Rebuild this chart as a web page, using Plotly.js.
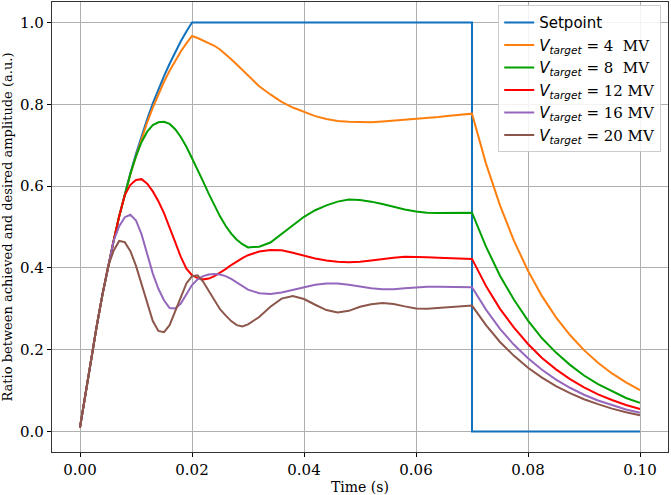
<!DOCTYPE html>
<html>
<head>
<meta charset="utf-8">
<script src="https://cdn.plot.ly/plotly-3.0.1.min.js"></script>
<style>
  html, body { margin: 0; padding: 0; background: #fff; }
  #plot { width: 671px; height: 495px; }
</style>
</head>
<body>
<div id="plot"></div>
<script>
// Time grid shared by the responses (s)
var time = [
  0, 0.001, 0.002, 0.003, 0.004, 0.005, 0.006, 0.007, 0.008, 0.009, 0.010,
  0.011, 0.012, 0.013, 0.014, 0.015, 0.016, 0.017, 0.018, 0.019, 0.020,
  0.021, 0.022, 0.023, 0.024, 0.025, 0.026, 0.027, 0.028, 0.029, 0.030,
  0.032, 0.034, 0.036, 0.038, 0.040, 0.042, 0.044, 0.046, 0.048, 0.050,
  0.052, 0.054, 0.056, 0.058, 0.060, 0.062, 0.064, 0.066, 0.068, 0.070,
  0.0725, 0.075, 0.0775, 0.080, 0.0825, 0.085, 0.0875, 0.090, 0.0925, 0.095, 0.0975, 0.100
];

// Setpoint
var setpointTime = [
  0, 0.001, 0.002, 0.003, 0.004, 0.005, 0.006, 0.007, 0.008, 0.009, 0.010,
  0.011, 0.012, 0.013, 0.014, 0.015, 0.016, 0.017, 0.018, 0.019, 0.020,
  0.070, 0.070, 0.100
];
var setpoint = [
  0.01, 0.095, 0.179, 0.259, 0.334, 0.403, 0.466, 0.526, 0.581, 0.632, 0.679,
  0.723, 0.764, 0.802, 0.837, 0.869, 0.899, 0.928, 0.954, 0.978, 1.0,
  1.0, 0.0, 0.0
];

// Achieved / desired amplitude for each target voltage
var v4 = [
  0.01, 0.095, 0.179, 0.259, 0.334, 0.403, 0.466, 0.526, 0.58,
  0.629, 0.673, 0.716, 0.756, 0.792, 0.825, 0.855, 0.882, 0.907, 0.929, 0.949, 0.967,
  0.962, 0.956, 0.95, 0.943, 0.934, 0.923, 0.91, 0.897, 0.884, 0.869,
  0.844, 0.824, 0.806, 0.792, 0.781, 0.771, 0.764, 0.759, 0.757, 0.756,
  0.756, 0.758, 0.76, 0.762, 0.765, 0.767, 0.769, 0.772, 0.774, 0.777,
  0.655, 0.553, 0.466, 0.393, 0.331, 0.279, 0.236, 0.199, 0.168, 0.142, 0.120, 0.101
];
var v8 = [
  0.01, 0.095, 0.179, 0.259, 0.334, 0.403, 0.466, 0.526,
  0.58, 0.63, 0.673, 0.708, 0.733, 0.749, 0.756, 0.757, 0.752, 0.739, 0.72, 0.696, 0.668,
  0.641, 0.611, 0.581, 0.552, 0.526, 0.503, 0.484, 0.469, 0.458, 0.45,
  0.452, 0.462, 0.483, 0.505, 0.525, 0.541, 0.553, 0.562, 0.567, 0.566,
  0.562, 0.556, 0.549, 0.543, 0.538, 0.535, 0.534, 0.534, 0.535, 0.535,
  0.452, 0.381, 0.322, 0.271, 0.228, 0.193, 0.163, 0.137, 0.116, 0.098, 0.082, 0.07
];
var v12 = [
  0.01, 0.095, 0.179, 0.259, 0.334, 0.403, 0.466, 0.526,
  0.578, 0.603, 0.615, 0.617, 0.606, 0.587, 0.563, 0.534, 0.50, 0.463, 0.427, 0.398, 0.382,
  0.375, 0.372, 0.374, 0.38, 0.388, 0.397, 0.407, 0.416, 0.424, 0.431,
  0.44, 0.444, 0.443, 0.437, 0.43, 0.423, 0.418, 0.415, 0.414, 0.415,
  0.418, 0.422, 0.425, 0.427, 0.427, 0.426, 0.425, 0.424, 0.423, 0.422,
  0.356, 0.300, 0.254, 0.214, 0.180, 0.152, 0.128, 0.108, 0.091, 0.077, 0.065, 0.055
];
var v16 = [
  0.01, 0.095, 0.179, 0.259, 0.334, 0.403, 0.466,
  0.502, 0.524, 0.53, 0.516, 0.482, 0.433, 0.386, 0.349, 0.321, 0.302, 0.301, 0.313, 0.335, 0.358,
  0.372, 0.38, 0.384, 0.385, 0.384, 0.38, 0.373, 0.364, 0.355, 0.347,
  0.338, 0.336, 0.34, 0.346, 0.353, 0.359, 0.362, 0.362, 0.359, 0.354,
  0.35, 0.348, 0.348, 0.35, 0.352, 0.354, 0.354, 0.354, 0.353, 0.353,
  0.298, 0.251, 0.212, 0.179, 0.151, 0.127, 0.107, 0.090, 0.076, 0.065, 0.054, 0.046
];
var v20 = [
  0.01, 0.095, 0.179, 0.259, 0.334, 0.403,
  0.442, 0.466, 0.463, 0.441, 0.405, 0.36, 0.312, 0.27, 0.246, 0.243, 0.26, 0.293, 0.33, 0.362, 0.38,
  0.382, 0.366, 0.344, 0.32, 0.299, 0.284, 0.27, 0.26, 0.257, 0.262,
  0.28, 0.305, 0.325, 0.331, 0.324, 0.31, 0.297, 0.291, 0.295, 0.305,
  0.311, 0.314, 0.312, 0.306, 0.301, 0.30, 0.302, 0.305, 0.307, 0.308,
  0.260, 0.219, 0.185, 0.156, 0.132, 0.111, 0.094, 0.079, 0.067, 0.056, 0.047, 0.04
];

var voltages = [4, 8, 12, 16, 20];
var series = [v4, v8, v12, v16, v20];
var colors = ["#ff7f0e", "#00a000", "#ff0000", "#9467bd", "#8c564b"];

var sans = "font-family:'DejaVu Sans'";

var data = [{
  x: setpointTime,
  y: setpoint,
  mode: "lines",
  type: "scatter",
  name: "<span style=\"" + sans + "\">Setpoint</span>",
  line: { color: "#1071bd", width: 2 }
}];

for (var i = 0; i < series.length; i++) {
  var pad = voltages[i] < 10 ? "\u00a0\u00a0" : "\u00a0";
  data.push({
    x: time,
    y: series[i],
    mode: "lines",
    type: "scatter",
    name: "<span style=\"" + sans + "\"><i>V</i><sub><i>target</i></sub>\u00a0=</span>\u00a0" + voltages[i] + pad + "MV",
    line: { color: colors[i], width: 2 }
  });
}

var layout = {
  width: 671,
  height: 495,
  margin: { l: 52, r: 3, t: 2, b: 43 },
  paper_bgcolor: "#fff",
  plot_bgcolor: "#fff",
  font: { family: "DejaVu Serif", size: 15, color: "#000" },
  showlegend: true,
  legend: {
    x: 0.989,
    y: 0.993,
    xanchor: "right",
    yanchor: "top",
    bgcolor: "rgba(255,255,255,0.85)",
    bordercolor: "#cccccc",
    borderwidth: 1,
    font: { family: "DejaVu Serif", size: 15, color: "#000" }
  },
  xaxis: {
    title: { text: "Time (s)", font: { size: 14 }, standoff: 6 },
    range: [-0.005, 0.105],
    tickvals: [0, 0.02, 0.04, 0.06, 0.08, 0.1],
    tickformat: ".2f",
    ticks: "outside",
    ticklen: 4,
    tickcolor: "#000",
    tickfont: { size: 15 },
    showgrid: true,
    gridcolor: "#b0b0b0",
    gridwidth: 1,
    zeroline: false,
    showline: true,
    mirror: true,
    linecolor: "#333",
    linewidth: 1.2
  },
  yaxis: {
    title: { text: "Ratio between achieved and desired amplitude (a.u.)", font: { size: 13 }, standoff: 6 },
    range: [-0.05, 1.05],
    tickvals: [0, 0.2, 0.4, 0.6, 0.8, 1.0],
    tickformat: ".1f",
    ticks: "outside",
    ticklen: 4,
    tickcolor: "#000",
    tickfont: { size: 15 },
    showgrid: true,
    gridcolor: "#b0b0b0",
    gridwidth: 1,
    zeroline: false,
    showline: true,
    mirror: true,
    linecolor: "#333",
    linewidth: 1.2
  }
};

Plotly.newPlot("plot", data, layout, { displayModeBar: false, staticPlot: true });
</script>
</body>
</html>
